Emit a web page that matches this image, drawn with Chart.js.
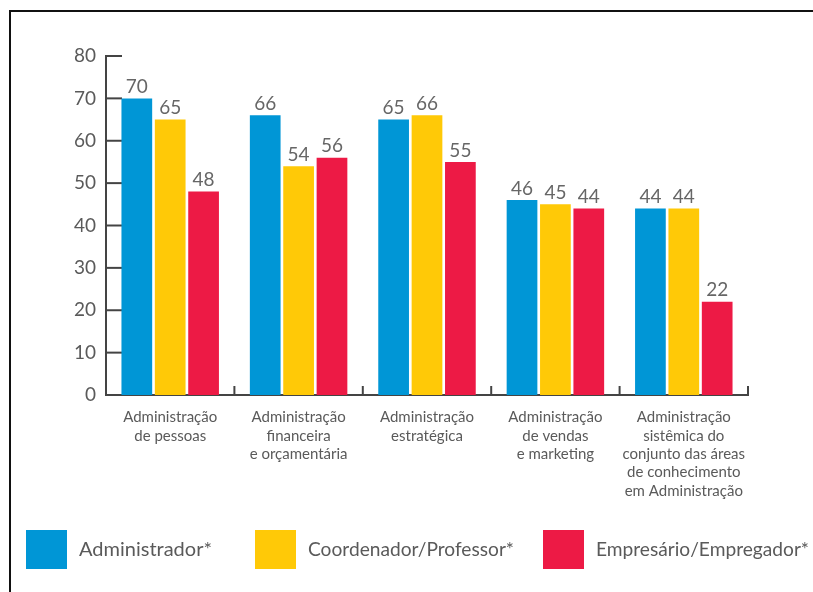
<!DOCTYPE html>
<html>
<head>
<meta charset="utf-8">
<script src="https://cdn.jsdelivr.net/npm/chart.js@4"></script>
<style>
  html, body { margin: 0; padding: 0; background: #fff; overflow: hidden; }
  #frame { position: absolute; left: 9px; top: 10px; width: 900px; height: 700px;
           border-top: 2px solid #111; border-left: 2px solid #111; }
  #wrap { position: absolute; left: 0; top: 0; width: 813px; height: 592px; }
</style>
</head>
<body>
<div id="frame"></div>
<div id="wrap"><canvas id="chart" width="813" height="592"></canvas></div>
<script>
const categories = [
  ["Administração", "de pessoas"],
  ["Administração", "financeira", "e orçamentária"],
  ["Administração", "estratégica"],
  ["Administração", "de vendas", "e marketing"],
  ["Administração", "sistêmica do", "conjunto das áreas", "de conhecimento", "em Administração"]
]
const administrador = [70, 66, 65, 46, 44]
const coordenador = [65, 54, 66, 45, 44]
const empresario = [48, 56, 55, 44, 22]
const yTicks = [0, 10, 20, 30, 40, 50, 60, 70, 80]

const textGray = "#5a5a5a"
const axisGray = "#444"

// rótulos de valor acima das barras
const valueLabels = {
  id: "valueLabels",
  afterDatasetsDraw(chart) {
    const ctx = chart.ctx
    ctx.save()
    ctx.font = "19px Lato"
    ctx.fillStyle = "#666"
    ctx.textAlign = "center"
    ctx.textBaseline = "bottom"
    chart.data.datasets.forEach((ds, i) => {
      chart.getDatasetMeta(i).data.forEach((bar, j) => {
        ctx.fillText(ds.data[j], bar.x, bar.y - 2)
      })
    })
    ctx.restore()
  }
}

// marcas internas do eixo y e marcas entre categorias no eixo x
const axisMarks = {
  id: "axisMarks",
  beforeDatasetsDraw(chart) {
    const ctx = chart.ctx
    const y = chart.scales.y
    const x = chart.scales.x
    ctx.save()
    ctx.strokeStyle = axisGray
    ctx.lineWidth = 2
    yTicks.forEach(v => {
      const py = y.getPixelForValue(v)
      ctx.beginPath()
      ctx.moveTo(x.left, py)
      ctx.lineTo(x.left + 16, py)
      ctx.stroke()
    })
    const w = x.getPixelForValue(1) - x.getPixelForValue(0)
    for (let i = 1; i <= categories.length; i++) {
      const px = x.getPixelForValue(i) - w / 2
      ctx.beginPath()
      ctx.moveTo(px, y.bottom)
      ctx.lineTo(px, y.bottom - 9)
      ctx.stroke()
    }
    ctx.restore()
  }
}

// legenda em uma linha só, como no original
const bottomLegend = {
  id: "bottomLegend",
  afterDraw(chart) {
    const ctx = chart.ctx
    const starts = [26, 255, 543]
    const maxW = [134, 206, 213]
    ctx.save()
    ctx.font = "20px Lato"
    ctx.textBaseline = "middle"
    chart.data.datasets.forEach((ds, i) => {
      ctx.fillStyle = ds.backgroundColor
      ctx.fillRect(starts[i], 530, 41, 39)
      ctx.fillStyle = textGray
      ctx.fillText(ds.label, starts[i] + 53, 550, maxW[i])
    })
    ctx.restore()
  }
}

const ctx = document.getElementById("chart").getContext("2d")
new Chart(ctx, {
  type: "bar",
  data: {
    labels: categories,
    datasets: [
      { label: "Administrador*", data: administrador, backgroundColor: "#0096D6", borderWidth: 0 },
      { label: "Coordenador/Professor*", data: coordenador, backgroundColor: "#FFC907", borderWidth: 0 },
      { label: "Empresário/Empregador*", data: empresario, backgroundColor: "#ED1A45", borderWidth: 0 }
    ]
  },
  options: {
    responsive: false,
    animation: false,
    layout: { padding: { left: 0, right: 65, top: 56, bottom: 92 } },
    datasets: { bar: { categoryPercentage: 0.78, barPercentage: 0.92 } },
    scales: {
      x: {
        grid: { display: false, drawTicks: false },
        border: { color: axisGray, width: 2 },
        ticks: {
          color: textGray,
          font: { family: "Lato", size: 15, lineHeight: 1.23 },
          padding: 13,
          maxRotation: 0,
          autoSkip: false
        },
        afterFit(scale) { scale.height = 105 }
      },
      y: {
        min: 0,
        max: 80,
        grid: { display: false, drawTicks: false },
        border: { color: axisGray, width: 2 },
        ticks: {
          stepSize: 10,
          color: textGray,
          font: { family: "Lato", size: 19 },
          padding: 10
        },
        afterFit(scale) { scale.width = 106 }
      }
    },
    plugins: {
      tooltip: { enabled: false },
      legend: { display: false }
    }
  },
  plugins: [valueLabels, axisMarks, bottomLegend]
})
</script>
</body>
</html>
